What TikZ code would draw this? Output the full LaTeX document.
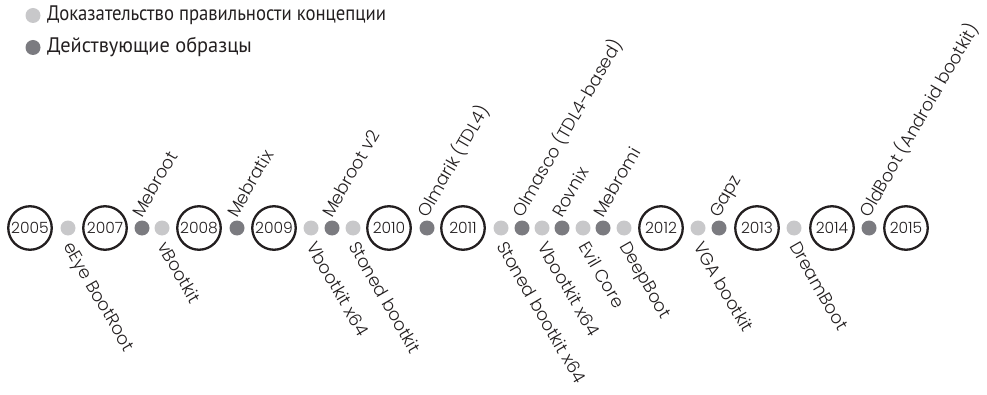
\documentclass[tikz,border=0pt]{standalone}
\usepackage{fontspec}
\setmainfont{Poppins Light}
\newfontfamily\legfont{PT Sans}
\definecolor{lg}{HTML}{C8C8CA}
\definecolor{dg}{HTML}{7B7B80}
\definecolor{ink}{HTML}{231F20}
\begin{document}
\begin{tikzpicture}[x=1pt,y=1pt,
  yearnode/.style={circle,draw=ink,line width=2.3pt,minimum size=43.5pt,inner sep=0pt,
    font=\fontsize{15.5}{15.5}\selectfont,text=ink},
  pdot/.style={circle,fill=lg,minimum size=15pt,inner sep=0pt},
  adot/.style={circle,fill=dg,minimum size=15pt,inner sep=0pt},
  uplab/.style={rotate=60,anchor=base west,inner sep=0pt,font=\fontsize{17.5}{17.5}\selectfont,text=ink},
  dnlab/.style={rotate=-60,anchor=base west,inner sep=0pt,font=\fontsize{17.5}{17.5}\selectfont,text=ink},
  legtext/.style={anchor=west,inner sep=0pt,font=\legfont\fontsize{21}{21}\selectfont,text=ink}]
\useasboundingbox (0,0) rectangle (987,394);
% legend
\node[pdot] (lp) at (33,378.5) {};
\node[legtext] (lpt) at (47,378.5) {\scalebox{0.89}[1]{Доказательство правильности концепции}};
\node[adot] (la) at (33,346.5) {};
\node[legtext] (lat) at (47,346.5) {\scalebox{0.97}[1]{Действующие образцы}};
% years
\foreach \n/\x in {2005/30,2007/105,2008/199,2009/274,2010/389,2011/463,2012/661,2013/757,2014/832,2015/906}
  \node[yearnode] (y\n) at (\x,166) {\n};
% proof-of-concept dots (below)
\foreach \i/\x/\t in {a/68/eEye BootRoot, b/162/vBootkit, c/311/Vbootkit x64, d/353/Stoned bootkit,
   e/501/Stoned bootkit x64, f/542/Vbootkit x64, g/583/Evil Core, h/624/DeepBoot, i/698/VGA bootkit, j/794/DreamBoot}
{
  \node[pdot] (p\i) at (\x,166) {};
  \node[dnlab] (pt\i) at ([shift={(-5,-18)}]p\i.center) {\t};
}
% in-the-wild dots (above)
\foreach \i/\x/\t in {a/142/Mebroot, b/237/Mebratix, c/332/Mebroot v2, d/427/Olmarik (TDL4),
   e/522/Olmasco (TDL4-based), f/562/Rovnix, g/603/Mebromi, h/719/Gapz, i/869/OldBoot (Android bootkit)}
{
  \node[adot] (a\i) at (\x,166) {};
  \node[uplab] (at\i) at ([shift={(0,9)}]a\i.center) {\t};
}
\end{tikzpicture}
\end{document}
